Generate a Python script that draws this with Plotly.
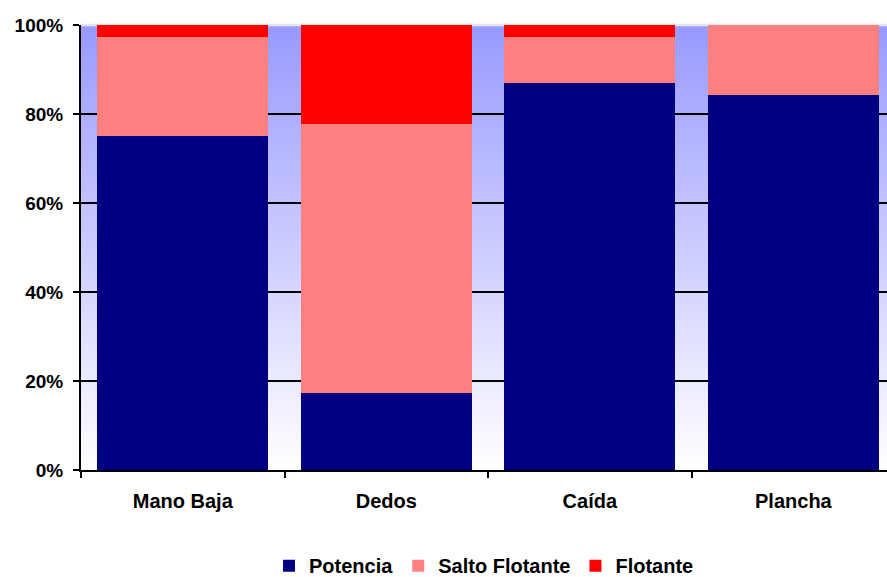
import base64
import plotly.graph_objects as go

# Stacked percentage shares per technique
categories = ["Mano Baja", "Dedos", "Caída", "Plancha"]
potencia = [75.0, 17.4, 87.0, 84.3]
salto_flotante = [22.3, 60.4, 10.3, 15.7]
flotante = [2.7, 22.2, 2.7, 0.0]

y_ticks = [0, 20, 40, 60, 80, 100]
y_tick_labels = ["0%", "20%", "40%", "60%", "80%", "100%"]

series = [
    ("Potencia", potencia, "#000080"),
    ("Salto Flotante", salto_flotante, "#FF8080"),
    ("Flotante", flotante, "#FF0000"),
]

FONT = "Liberation Sans, Arial, sans-serif"

fig = go.Figure()
for name, vals, color in series:
    fig.add_trace(go.Bar(
        name=name, x=categories, y=vals,
        marker=dict(color=color, line=dict(width=0)),
    ))

# Vertical periwinkle-to-white gradient behind the plot area
svg = (
    '<svg xmlns="http://www.w3.org/2000/svg" width="100" height="100" preserveAspectRatio="none">'
    '<defs><linearGradient id="g" x1="0" y1="0" x2="0" y2="1">'
    '<stop offset="0" stop-color="#9999FF"/><stop offset="1" stop-color="#FFFFFF"/>'
    '</linearGradient></defs><rect width="100" height="100" fill="url(#g)"/></svg>'
)
bg_src = "data:image/svg+xml;base64," + base64.b64encode(svg.encode()).decode()

fig.update_layout(
    width=887, height=577,
    margin=dict(l=81, r=0, t=25, b=107, autoexpand=False),
    barmode="stack",
    bargap=0.16,
    paper_bgcolor="white",
    plot_bgcolor="rgba(0,0,0,0)",
    font=dict(family=FONT, size=19, color="black", weight="bold"),
    images=[dict(
        source=bg_src, xref="paper", yref="paper", x=0, y=1,
        sizex=1, sizey=1, sizing="stretch", xanchor="left", yanchor="top",
        layer="below",
    )],
    # light border along the top edge of the plot area (hides the 100% gridline)
    shapes=[dict(type="line", xref="paper", yref="paper", x0=0, x1=1, y0=1, y1=1,
                 line=dict(color="#E6E6E6", width=2.5), layer="between")],
    legend=dict(
        orientation="h", x=0.5, xanchor="center", y=-0.215, yanchor="middle",
        font=dict(family=FONT, size=20, color="black", weight="bold"),
        itemwidth=30, traceorder="normal",
    ),
    xaxis=dict(
        type="category", range=[-0.5, 3.46], showgrid=False,
        showline=True, linecolor="black", linewidth=2,
        ticks="outside", tickson="boundaries", ticklen=6, tickwidth=1.5, tickcolor="black",
        tickfont=dict(family=FONT, size=20, color="black", weight="bold"),
        ticklabelstandoff=12,
    ),
    yaxis=dict(
        range=[0, 100], tickmode="array", tickvals=y_ticks, ticktext=y_tick_labels,
        showgrid=True, gridcolor="black", gridwidth=1.5,
        showline=True, linecolor="black", linewidth=2,
        ticks="outside", ticklen=6, tickwidth=1.5, tickcolor="black",
        tickfont=dict(family=FONT, size=19, color="black", weight="bold"),
        ticklabelstandoff=6, zeroline=False,
    ),
)

fig.write_html("out.html")
